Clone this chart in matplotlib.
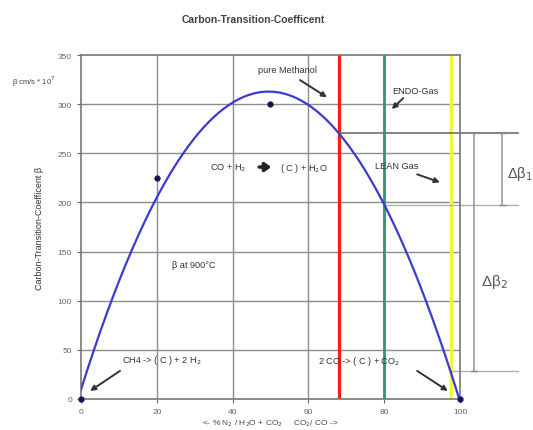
import numpy as np
import matplotlib.pyplot as plt

plt.rcParams['font.family'] = ['Liberation Sans', 'DejaVu Sans']

# measured points (x in %, beta in cm/s * 10^7)
x_pts = [0, 20, 50, 100]
beta_pts = [0, 225, 300, 0]

# gas composition markers
x_methanol = 68
x_endo = 80
x_lean = 97.5

x_ticks = [0, 20, 40, 60, 80, 100]
y_ticks = [0, 50, 100, 150, 200, 250, 300, 350]

# quadratic trendline through the points
coef = np.polyfit(x_pts, beta_pts, 2)
xs = np.linspace(0, 100, 300)
ys = np.polyval(coef, xs)
b_red, b_green, b_yel = np.polyval(coef, [x_methanol, x_endo, x_lean])

fig = plt.figure(figsize=(5.33, 4.31), dpi=100)
ax = fig.add_axes([0.152, 0.072, 0.711, 0.798])

grey = '#8c8c8c'
for v in y_ticks[1:-1]:
    ax.axhline(v, color=grey, lw=1.0, zorder=1)
for v in x_ticks[1:-1]:
    ax.axvline(v, color=grey, lw=1.0, zorder=1)

ax.axvline(x_methanol, color='#ff1a1a', lw=2.3, zorder=2)
ax.axvline(x_endo, color='#2a9a72', lw=2.0, zorder=2)
ax.axvline(x_lean, color='#f4f43c', lw=2.5, zorder=2)

ax.plot(xs, ys, color='#3b3bd0', lw=1.6, zorder=3)
ax.plot(x_pts, beta_pts, 'o', color='#14145a', ms=3.5, zorder=4, clip_on=False)

# horizontal guide lines out to the delta markers
x_out = 115.3
ax.plot([x_methanol, x_out], [b_red, b_red], color='#6e6e6e', lw=1.2, clip_on=False, zorder=2)
ax.plot([x_endo, x_out], [b_green, b_green], color='#b0b0b0', lw=1.0, clip_on=False, zorder=2)
ax.plot([x_lean, x_out], [b_yel, b_yel], color='#b0b0b0', lw=1.0, clip_on=False, zorder=2)

dim = dict(arrowstyle='|-|,widthA=0.25,widthB=0.25', color='#8a8a8a', lw=1.0, shrinkA=0, shrinkB=0)
ax.annotate('', xy=(111.1, b_green), xytext=(111.1, b_red), arrowprops=dim, annotation_clip=False)
ax.annotate('', xy=(103.7, b_yel), xytext=(103.7, b_red), arrowprops=dim, annotation_clip=False)
ax.text(112.4, 230, r'Δβ$_1$', fontsize=10.5, color='#555555', va='center', clip_on=False)
ax.text(105.6, 120, r'Δβ$_2$', fontsize=11, color='#555555', va='center', clip_on=False)

# annotations
arr = dict(arrowstyle='-|>,head_width=0.15,head_length=0.3', color='#333333', lw=1.4, shrinkA=0, shrinkB=0)
small = dict(fontsize=6.6, color='#333333')
ax.text(54.6, 335, 'pure Methanol', ha='center', va='center', **small)
ax.annotate('', xy=(64.9, 307), xytext=(57.8, 324.5), arrowprops=arr)
ax.text(88.1, 314, 'ENDO-Gas', ha='center', va='center', **small)
ax.annotate('', xy=(82, 295), xytext=(85, 306), arrowprops=arr)
ax.text(83.2, 238, 'LEAN Gas', ha='center', va='center', **small)
ax.annotate('', xy=(94.7, 220.5), xytext=(88.7, 228.6), arrowprops=arr)
ax.text(34, 236, r'CO + H$_2$', ha='left', va='center', **small)
ax.annotate('', xy=(50.2, 236), xytext=(47.0, 236),
            arrowprops=dict(arrowstyle='-|>,head_width=0.25,head_length=0.35', color='#222222', lw=2.5, shrinkA=0, shrinkB=0))
ax.text(52.5, 236, r'( C ) + H$_2$O', ha='left', va='center', **small)
ax.text(29.7, 137, 'β at 900°C', ha='center', va='center', **small)
ax.text(10.8, 40, r'CH4 -> ( C ) + 2 H$_2$', ha='left', va='center', **small)
ax.annotate('', xy=(2.4, 8.2), xytext=(10.3, 28.6), arrowprops=arr)
ax.text(62.5, 39, r'2 CO -> ( C ) + CO$_2$', ha='left', va='center', **small)
ax.annotate('', xy=(96.8, 8.2), xytext=(88.7, 28.6), arrowprops=arr)

ax.set_xlim(0, 100)
ax.set_ylim(0, 350)
ax.set_xticks(x_ticks)
ax.set_yticks(y_ticks)
ax.tick_params(labelsize=6, colors='#666666', length=3, width=0.8)
for s in ax.spines.values():
    s.set_color('#777777')
    s.set_linewidth(1.2)

ax.set_ylabel('Carbon-Transition-Coefficent β', fontsize=6.5, color='#333333', labelpad=10)
fig.text(253 / 533, 1 - 20 / 431, 'Carbon-Transition-Coefficent', ha='center', va='center',
         fontsize=7.5, fontweight='bold', color='#444444')
fig.text(12 / 533, 1 - 82 / 431, r'β cm/s * 10$^7$', ha='left', va='center', fontsize=5.5, color='#444444')
fig.text(270 / 533, 1 - 424 / 431, r'<- % N$_2$ / H$_2$O + CO$_2$     CO$_2$/ CO ->', ha='center', va='center',
         fontsize=6, color='#444444')

fig.savefig('out.png', dpi=100)
